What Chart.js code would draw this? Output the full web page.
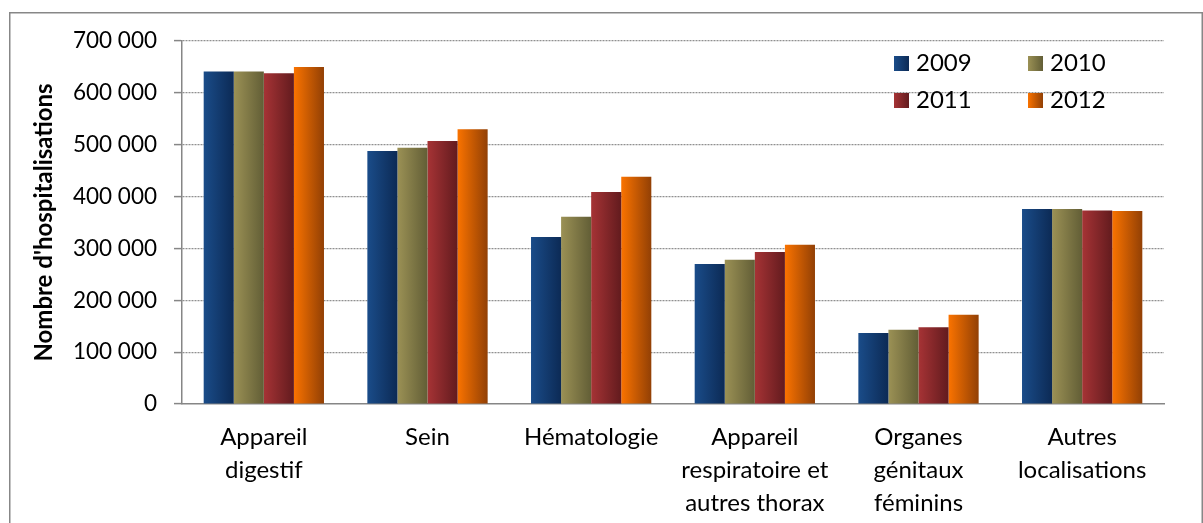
<!DOCTYPE html>
<html>
<head>
<meta charset="utf-8">
<script src="https://cdn.jsdelivr.net/npm/chart.js@4/dist/chart.umd.min.js"></script>
<style>
  html, body { margin: 0; padding: 0; background: #fff; }
  #wrap { position: relative; width: 1203px; height: 523px; }
</style>
</head>
<body>
<div id="wrap"><canvas id="c" width="1203" height="523"></canvas></div>
<script>
const categories = [
  ['Appareil', 'digestif'],
  ['Sein'],
  ['Hématologie'],
  ['Appareil', 'respiratoire et', 'autres thorax'],
  ['Organes', 'génitaux', 'féminins'],
  ['Autres', 'localisations']
];
const years = ['2009', '2010', '2011', '2012'];
const values2009 = [641000, 488000, 322000, 270000, 137000, 376000];
const values2010 = [641000, 494000, 361000, 278000, 143000, 376000];
const values2011 = [638000, 507000, 409000, 293000, 148000, 373000];
const values2012 = [650000, 530000, 438000, 307000, 172000, 372000];
const yMin = 0, yMax = 700000, yStep = 100000;
const yTitle = "Nombre d'hospitalisations";

const gradStops = [
  ['#1a4c89', '#0c2a55'],
  ['#9b9155', '#625e36'],
  ['#a63335', '#621b1e'],
  ['#fa7300', '#924005']
];
const FONT = 'Lato, "Open Sans", sans-serif';
const CAT_PCT = 0.735;

function fmt(v) { return String(v).replace(/\B(?=(\d{3})+(?!\d))/g, ' '); }

function barGradient(c) {
  const chart = c.chart;
  const stops = gradStops[c.datasetIndex];
  const xs = chart.scales && chart.scales.x;
  if (!xs || c.dataIndex === undefined || !isFinite(xs.left)) return stops[0];
  const catW = (xs.right - xs.left) / categories.length;
  const groupW = catW * CAT_PCT;
  const barW = groupW / years.length;
  const center = xs.getPixelForValue(c.dataIndex);
  const left = center - groupW / 2 + c.datasetIndex * barW;
  const g = chart.ctx.createLinearGradient(left, 0, left + barW, 0);
  g.addColorStop(0, stops[0]);
  g.addColorStop(1, stops[1]);
  return g;
}

const framePlugin = {
  id: 'frame',
  beforeDraw(chart) {
    const ctx = chart.ctx;
    ctx.save();
    ctx.fillStyle = '#fff';
    ctx.fillRect(0, 0, chart.width, chart.height);
    ctx.strokeStyle = '#878787';
    ctx.lineWidth = 1.5;
    ctx.strokeRect(9.75, 12.75, 1192.5, 530);
    ctx.restore();
  }
};

const legendPlugin = {
  id: 'boxLegend',
  afterDatasetsDraw(chart) {
    const ctx = chart.ctx;
    ctx.save();
    ctx.font = '24px ' + FONT;
    ctx.textBaseline = 'middle';
    ctx.textAlign = 'left';
    const cols = [894, 1028], rows = [56, 93], sz = 15;
    chart.data.datasets.forEach((ds, i) => {
      const x = cols[i % 2], y = rows[Math.floor(i / 2)];
      const g = ctx.createLinearGradient(x, 0, x + sz, 0);
      g.addColorStop(0, gradStops[i][0]);
      g.addColorStop(1, gradStops[i][1]);
      ctx.fillStyle = g;
      ctx.fillRect(x, y, sz, sz);
      ctx.fillStyle = '#000';
      ctx.fillText(ds.label, x + 22, y + sz / 2);
    });
    ctx.restore();
  }
};

const seriesValues = [values2009, values2010, values2011, values2012];

new Chart(document.getElementById('c'), {
  type: 'bar',
  data: {
    labels: categories,
    datasets: years.map((y, i) => ({
      label: y,
      data: seriesValues[i],
      backgroundColor: barGradient,
      borderWidth: 0,
      categoryPercentage: CAT_PCT,
      barPercentage: 1.0
    }))
  },
  options: {
    responsive: false,
    animation: false,
    events: [],
    layout: { padding: { left: 0, top: 41, right: 39, bottom: 0 } },
    plugins: { legend: { display: false }, tooltip: { enabled: false } },
    scales: {
      x: {
        grid: { display: false, drawTicks: false },
        border: { display: true, color: '#868686', width: 1.5 },
        ticks: {
          color: '#000',
          padding: 17,
          maxRotation: 0,
          autoSkip: false,
          font: { family: FONT, size: 24, lineHeight: '33px' }
        },
        afterFit(s) { s.height = 119; }
      },
      y: {
        min: yMin,
        max: yMax,
        grid: {
          color: c => (c.tick && c.tick.value === 0) ? 'rgba(0,0,0,0)' : '#909090',
          lineWidth: 1.2,
          drawTicks: true,
          tickLength: 8,
          tickColor: '#868686',
          tickWidth: 1.5,
          tickBorderDash: []
        },
        border: {
          display: true,
          color: '#868686',
          width: 1.5,
          dash: c => c.type === 'tick' ? [2, 1] : []
        },
        ticks: {
          stepSize: yStep,
          color: '#000',
          padding: 17,
          font: { family: FONT, size: 22.5 },
          callback: v => fmt(v)
        },
        title: {
          display: true,
          text: yTitle,
          color: '#000',
          font: { family: FONT, size: 24, weight: 'bold' },
          padding: { top: 30, bottom: 0 }
        },
        afterFit(s) { s.width = 182; }
      }
    }
  },
  plugins: [framePlugin, legendPlugin]
});
</script>
</body>
</html>
